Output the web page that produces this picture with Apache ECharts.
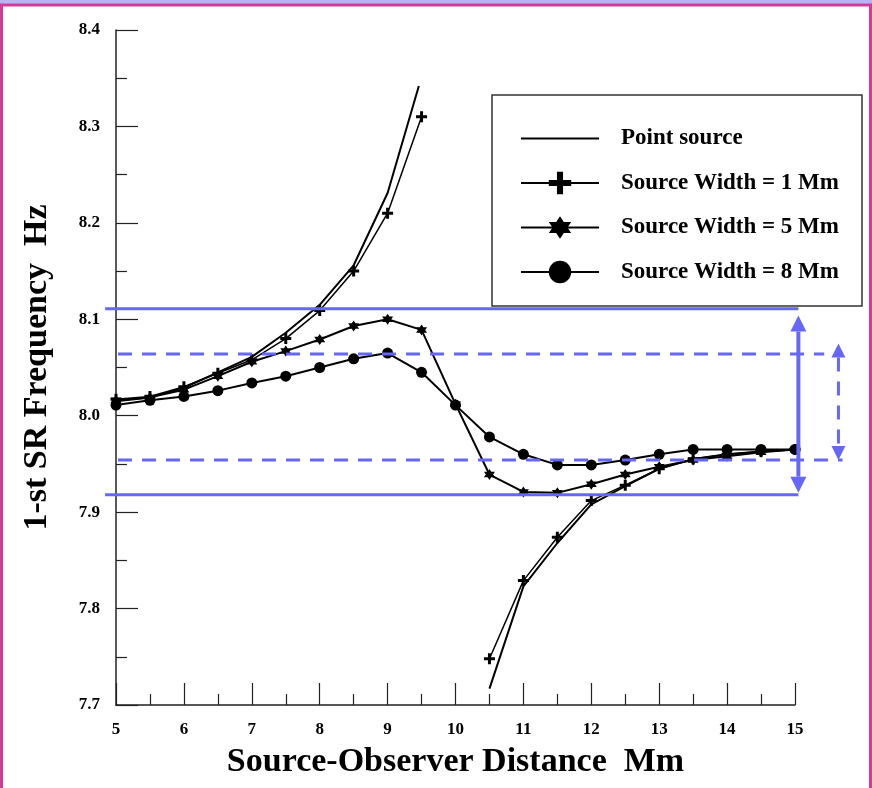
<!DOCTYPE html>
<html><head><meta charset="utf-8">
<script src="https://cdn.jsdelivr.net/npm/echarts@6/dist/echarts.min.js"></script>
<style>html,body{margin:0;padding:0;background:#fff}#c{width:872px;height:788px}</style>
</head><body><div id="c"></div>
<script>
// ---- data ----
const distance = [5,5.5,6,6.5,7,7.5,8,8.5,9,9.5,10,10.5,11,11.5,12,12.5,13,13.5,14,14.5,15];
const width1 = [8.017,8.020,8.030,8.044,8.058,8.080,8.109,8.150,8.210,8.310,null,7.748,7.829,7.874,7.912,7.928,7.945,7.955,7.960,7.963,7.965];
const width5 = [8.016,8.019,8.027,8.041,8.056,8.067,8.079,8.093,8.100,8.089,8.012,7.939,7.921,7.920,7.929,7.939,7.947,7.954,7.958,7.962,7.965];
const width8 = [8.011,8.016,8.020,8.026,8.034,8.041,8.050,8.059,8.065,8.045,8.011,7.978,7.960,7.949,7.949,7.954,7.960,7.965,7.965,7.965,7.965];
const pointX = [5,5.5,6,6.5,7,7.5,8,8.5,9,9.46,10,10.5,11,11.5,12,12.5,13,13.5,14,14.5,15];
const pointY = [8.015,8.019,8.029,8.045,8.061,8.086,8.115,8.156,8.231,8.342,null,7.717,7.823,7.868,7.908,7.927,7.945,7.955,7.960,7.963,7.965];
const seriesNames = ['Point source','Source Width = 1 Mm','Source Width = 5 Mm','Source Width = 8 Mm'];
// annotation levels (blue band lines and arrows)
const solidLevels = [8.111, 7.918];
const dashedLevels = [8.064, 7.954];
const solidArrow = [8.104, 7.920];
const dashedArrow = [8.075, 7.954];

const FONT = 'Liberation Serif';
const BLUE = '#6767f7';
const PLUS = 'path://M4,0h3v4h4v3h-4v4h-3v-4h-4v-3h4z';
const STAR = 'path://M0,-10L8.66,5L-8.66,5Z M0,10L-8.66,-5L8.66,-5Z';

function pairs(xs, ys){ return xs.map((x,i)=>[x, ys[i]==null ? '-' : ys[i]]); }

const lineCommon = {
  type:'line', connectNulls:false, lineStyle:{color:'#000', width:2},
  itemStyle:{color:'#000'}, emphasis:{disabled:true}, animation:false
};

const option = {
  animation:false,
  backgroundColor:'#fff',
  grid:{left:116, right:77, top:30, bottom:83},
  xAxis:{
    type:'value', min:5, max:15, interval:1,
    axisLine:{lineStyle:{color:'#222', width:1.5}},
    axisTick:{inside:true, length:22, lineStyle:{color:'#222', width:1.2}},
    minorTick:{show:true, splitNumber:2, length:11, lineStyle:{color:'#222', width:1.2}},
    splitLine:{show:false},
    axisLabel:{color:'#000', fontFamily:FONT, fontWeight:'bold', fontSize:17, margin:16},
    name:'Source-Observer Distance  Mm', nameLocation:'middle', nameGap:40,
    nameTextStyle:{color:'#000', fontFamily:FONT, fontWeight:'bold', fontSize:34}
  },
  yAxis:{
    type:'value', min:7.7, max:8.4, interval:0.1,
    axisLine:{show:true, lineStyle:{color:'#222', width:1.5}},
    axisTick:{show:true, inside:true, length:22, lineStyle:{color:'#222', width:1.2}},
    minorTick:{show:true, splitNumber:2, length:11, lineStyle:{color:'#222', width:1.2}},
    splitLine:{show:false},
    axisLabel:{color:'#000', fontFamily:FONT, fontWeight:'bold', fontSize:17, margin:16,
      formatter:v=>v.toFixed(1)},
    name:'1-st SR Frequency  Hz', nameLocation:'middle', nameGap:62,
    nameTextStyle:{color:'#000', fontFamily:FONT, fontWeight:'bold', fontSize:34}
  },
  legend:{
    orient:'vertical', left:515, top:122, itemWidth:78, itemHeight:28, itemGap:21.5,
    selectedMode:false,
    textStyle:{color:'#000', fontFamily:FONT, fontWeight:'bold', fontSize:23, padding:[0,0,0,17]},
    data:[{name:seriesNames[0], itemStyle:{opacity:0}}, seriesNames[1], seriesNames[2], seriesNames[3]]
  },
  series:[
    Object.assign({}, lineCommon, {name:seriesNames[0], data:pairs(pointX, pointY), symbol:'none', z:3}),
    Object.assign({}, lineCommon, {name:seriesNames[1], data:pairs(distance, width1), symbol:PLUS, symbolSize:11, lineStyle:{color:'#000', width:1.5}}),
    Object.assign({}, lineCommon, {name:seriesNames[2], data:pairs(distance, width5), symbol:STAR, symbolSize:11}),
    Object.assign({}, lineCommon, {name:seriesNames[3], data:pairs(distance, width8), symbol:'circle', symbolSize:11})
  ]
};

const chart = echarts.init(document.getElementById('c'), null, {renderer:'canvas'});
chart.setOption(option);

function P(x,y){ return chart.convertToPixel({gridIndex:0},[x,y]); }
function hline(x1,x2,y,dashed){
  const a=P(x1,y), b=P(x2,y);
  return {type:'line', z:100, shape:{x1:a[0],y1:a[1],x2:b[0],y2:b[1]},
    style:{stroke:BLUE, lineWidth:3, lineDash: dashed?[14,10]:null}};
}
function arrow(x, yTop, yBot, dashed, head, lw){
  const t=P(x,yTop), b=P(x,yBot);
  const els=[];
  els.push({type:'line', z:100, shape:{x1:t[0],y1:t[1]+head,x2:b[0],y2:b[1]-head},
    style:{stroke:BLUE, lineWidth:lw, lineDash: dashed?[14,10]:null}});
  els.push({type:'polygon', z:100, shape:{points:[[t[0],t[1]],[t[0]-head/2,t[1]+head],[t[0]+head/2,t[1]+head]]}, style:{fill:BLUE}});
  els.push({type:'polygon', z:100, shape:{points:[[b[0],b[1]],[b[0]-head/2,b[1]-head],[b[0]+head/2,b[1]-head]]}, style:{fill:BLUE}});
  return els;
}
const g = [
  // frame
  {type:'rect', z:0, shape:{x:0,y:0,width:872,height:4}, style:{fill:'#b6b6f2'}},
  {type:'line', z:200, shape:{x1:0,y1:5,x2:872,y2:5}, style:{stroke:'#d23c98', lineWidth:3}},
  {type:'line', z:200, shape:{x1:1.5,y1:4,x2:1.5,y2:788}, style:{stroke:'#d23c98', lineWidth:3}},
  {type:'line', z:200, shape:{x1:870.5,y1:4,x2:870.5,y2:788}, style:{stroke:'#d23c98', lineWidth:3}},
  // legend box
  {type:'rect', z:1, shape:{x:492,y:95,width:370,height:211}, style:{fill:'#fff', stroke:'#333', lineWidth:1.5}},
  hline(4.84, 15.05, solidLevels[0], false),
  hline(4.84, 15.05, solidLevels[1], false),
  hline(5.03, 15.43, dashedLevels[0], true),
  hline(5.03, 15.70, dashedLevels[1], true)
].concat(arrow(15.05, solidArrow[0], solidArrow[1], false, 16, 4))
 .concat(arrow(15.64, dashedArrow[0], dashedArrow[1], true, 14, 3));
chart.setOption({graphic:g});
</script></body></html>
